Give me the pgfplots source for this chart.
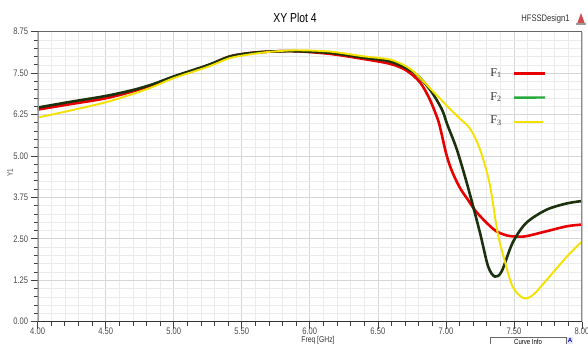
\documentclass[border=0pt]{standalone}
\usepackage{fontspec}
\setmainfont{Liberation Sans}
\newfontfamily\narrowfont[FakeStretch=0.8]{Liberation Sans}
\newfontfamily\seriffont{Liberation Serif}
\usepackage{pgfplots}
\pgfplotsset{compat=1.18}
\definecolor{cRed}{RGB}{232,0,0}
\definecolor{cGreen}{RGB}{28,50,14}
\definecolor{cGreenL}{RGB}{40,170,60}
\definecolor{cYel}{RGB}{245,225,0}

\pgfplotstableread{
f v
4.00 6.40
4.25 6.57
4.50 6.74
4.70 6.95
4.85 7.15
5.00 7.38
5.25 7.73
5.41 8.00
5.55 8.10
5.70 8.15
5.90 8.16
6.15 8.08
6.39 7.93
6.59 7.78
6.71 7.58
6.81 7.22
6.88 6.72
6.94 6.11
6.966 5.71
7.00 5.10
7.03 4.70
7.065 4.35
7.11 3.99
7.16 3.69
7.22 3.33
7.30 2.98
7.37 2.73
7.45 2.60
7.52 2.57
7.59 2.58
7.74 2.73
7.89 2.88
8.00 2.93
}\redtab

\pgfplotstableread{
f v
4.00 6.46
4.25 6.64
4.50 6.81
4.70 6.99
4.85 7.17
5.00 7.40
5.25 7.74
5.41 8.00
5.55 8.10
5.70 8.15
5.90 8.16
6.15 8.11
6.39 7.97
6.59 7.85
6.76 7.53
6.88 7.02
6.97 6.41
7.01 5.95
7.08 5.20
7.16 4.09
7.25 2.69
7.31 1.67
7.36 1.36
7.41 1.52
7.49 2.38
7.59 2.98
7.74 3.38
7.89 3.57
8.00 3.64
}\greentab

\pgfplotstableread{
f v
4.00 6.16
4.25 6.38
4.50 6.62
4.70 6.87
4.85 7.09
5.00 7.35
5.25 7.69
5.41 7.95
5.55 8.06
5.70 8.14
5.90 8.19
6.15 8.15
6.39 8.01
6.59 7.91
6.71 7.70
6.78 7.48
6.90 6.97
6.96 6.72
7.01 6.50
7.10 6.14
7.18 5.81
7.25 5.20
7.32 4.19
7.38 2.68
7.43 1.87
7.49 1.06
7.57 0.71
7.64 0.81
7.74 1.26
7.89 1.97
8.00 2.42
}\yeltab

\begin{document}
\begin{tikzpicture}
\useasboundingbox (0pt,0pt) rectangle (588pt,344pt);
\clip (0pt,0pt) rectangle (588pt,344pt);
\fill[white] (0pt,0pt) rectangle (588pt,344pt);
\begin{axis}[
  at={(37.6pt,22.3pt)}, anchor=south west,
  scale only axis, width=544.4pt, height=290pt,
  xmin=4, xmax=8, ymin=0, ymax=8.75,
  xtick={4,4.5,5,5.5,6,6.5,7,7.5,8},
  ytick={0,1.25,2.5,3.75,5,6.25,7.5,8.75},
  minor x tick num=4, minor y tick num=4,
  grid=both,
  major grid style={draw=black!16, line width=0.7pt},
  minor grid style={draw=black!8, line width=0.6pt},
  tick align=outside, tick pos=left,
  major tick length=7pt, minor tick length=4pt,
  every tick/.style={draw=black!75, line width=0.7pt},
  axis line style={draw=none},
  scaled ticks=false,
  /pgf/number format/.cd, fixed, fixed zerofill, precision=2, assume math mode=true,
  /pgfplots/.cd,
  xticklabel style={font=\narrowfont\fontsize{9.5}{10}\selectfont, text=black!70, yshift=4pt},
  yticklabel style={font=\narrowfont\fontsize{9.5}{10}\selectfont, text=black!70, xshift=1pt},
]
\addplot[cRed, line width=2.6pt, smooth, tension=0.5] table[x=f,y=v] {\redtab};
\addplot[cGreen, line width=2.6pt, smooth, tension=0.5] table[x=f,y=v] {\greentab};
\addplot[cYel, line width=1.9pt, smooth, tension=0.5] table[x=f,y=v] {\yeltab};
\draw[black!40, line width=2.4pt] (rel axis cs:0,0) -- (rel axis cs:0,1);
\draw[black!60, line width=1.6pt] (rel axis cs:0,1) -- (rel axis cs:1,1);
\draw[black!45, line width=1.4pt] (rel axis cs:1,0) -- (rel axis cs:1,1);
\draw[black!80, line width=1.8pt] (rel axis cs:0,0) -- (rel axis cs:1,0);
\end{axis}
% title and labels
\node[font=\narrowfont\fontsize{13}{14}\selectfont] at (295pt,326.5pt) {XY Plot 4};
\node[font=\narrowfont\fontsize{9.5}{10}\selectfont, text=black!80] at (545.5pt,325pt) {HFSSDesign1};
\fill[red!75!black!70] (577pt,320pt) -- (581pt,331pt) -- (585pt,320pt) -- cycle;
\fill[black!40] (576pt,319pt) rectangle (586pt,321pt);
\node[rotate=90, font=\narrowfont\fontsize{8}{9}\selectfont, text=black!70] at (10pt,171pt) {Y1};
\node[anchor=north, font=\narrowfont\fontsize{8.5}{9}\selectfont, text=black!80, inner sep=0pt] at (318pt,7.5pt) {Freq [GHz]};
% legend
\node[font=\seriffont\fontsize{12}{13}\selectfont, text=black!80, anchor=center] at (496pt,271pt) {F\textsubscript{1}};
\node[font=\seriffont\fontsize{12}{13}\selectfont, text=black!80, anchor=center] at (496pt,247pt) {F\textsubscript{2}};
\node[font=\seriffont\fontsize{12}{13}\selectfont, text=black!80, anchor=center] at (496pt,223pt) {F\textsubscript{3}};
\draw[cRed, line width=2.6pt] (514pt,270.7pt) -- (545pt,270.7pt);
\draw[cGreenL, line width=2.4pt] (514pt,246.3pt) -- (545pt,246.5pt);
\draw[cYel, line width=2.2pt] (514pt,222.3pt) -- (543pt,222.3pt);
% curve info box
\draw[black!60, fill=white, line width=0.8pt] (490pt,-5pt) rectangle (566pt,7pt);
\node[anchor=north, font=\narrowfont\fontsize{7.5}{8}\selectfont, inner sep=0pt] at (528pt,5.5pt) {Curve Info};
\fill[blue!10] (567pt,0pt) rectangle (573pt,7pt);
\node[font=\fontsize{6}{6}\selectfont\bfseries, text=blue!70!black, inner sep=0pt] at (570pt,4pt) {A};
\end{tikzpicture}
\end{document}
